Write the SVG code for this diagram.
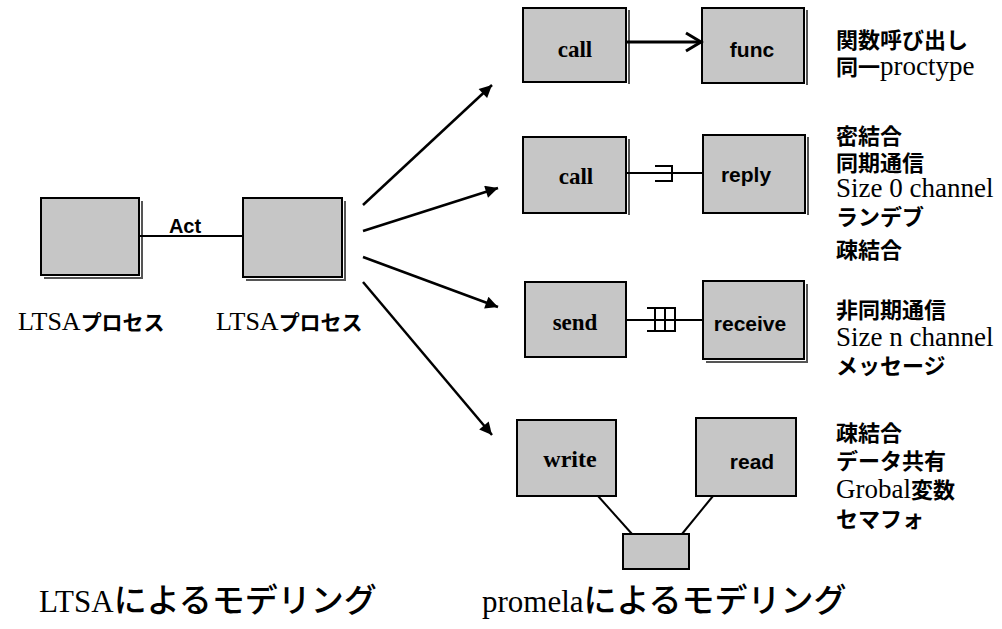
<svg xmlns="http://www.w3.org/2000/svg" width="1002" height="629" viewBox="0 0 1002 629">
<style>
.box{fill:#c6c6c6;stroke:#000;stroke-width:2}
.shadow{fill:none;stroke:#555;stroke-width:2}
.ln{stroke:#000;stroke-width:2;fill:none}
.arr{stroke:#000;stroke-width:2.5;fill:none}
.ser{font-family:'Liberation Serif','Times New Roman',serif;font-weight:700;fill:#000}
.san{font-family:'Liberation Sans',Arial,sans-serif;font-weight:700;fill:#000}
.rt{font-family:'Liberation Serif','Noto Sans CJK JP',serif;font-size:27px;fill:#000}
.jp{font-family:'Noto Sans CJK JP',sans-serif;font-weight:700;font-size:22px}
.lab{font-family:'Liberation Serif','Noto Sans CJK JP',serif;font-size:26px;fill:#000}
.jpl{font-family:'Noto Sans CJK JP',sans-serif;font-weight:700;font-size:21px}
.tt{font-family:'Liberation Serif','Noto Sans CJK JP',serif;font-size:31px;fill:#000}
.jpt{font-family:'Noto Sans CJK JP',sans-serif;font-weight:500;font-size:33px}
</style>
<defs>
<marker id="ah" viewBox="0 0 10 10" refX="10" refY="5" markerWidth="6" markerHeight="5" orient="auto" markerUnits="strokeWidth">
<path d="M0,0 L10,5 L0,10 z" fill="#000"/>
</marker>
</defs>

<g id="ltsa1">
<path class="shadow" d="M142,201 V278 H44"/>
<rect class="box" x="41" y="198" width="98" height="77"/>
</g>
<g id="ltsa2">
<path class="shadow" d="M345,201 V280 H246"/>
<rect class="box" x="243" y="198" width="99" height="79"/>
</g>
<text class="san" x="185" y="233" font-size="20" text-anchor="middle">Act</text>
<text class="lab" x="18" y="330">LTSA<tspan class="jpl">プロセス</tspan></text>
<text class="lab" x="216" y="330">LTSA<tspan class="jpl">プロセス</tspan></text>

<g id="call1">
<path class="shadow" d="M629,10 V84"/>
<rect class="box" x="523" y="8" width="103" height="74"/>
<text class="ser" x="575" y="57" font-size="23" text-anchor="middle">call</text>
</g>
<g id="func">
<path class="shadow" d="M807,10 V85"/>
<rect class="box" x="702" y="8" width="102" height="75"/>
<text class="san" x="752" y="57" font-size="21" text-anchor="middle">func</text>
</g>
<g id="call2">
<path class="shadow" d="M629,139 V215"/>
<rect class="box" x="523" y="137" width="103" height="76"/>
<text class="ser" x="576" y="184" font-size="23" text-anchor="middle">call</text>
</g>
<g id="reply">
<path class="shadow" d="M808,137 V215"/>
<rect class="box" x="703" y="135" width="102" height="78"/>
<text class="san" x="746" y="182" font-size="21" text-anchor="middle">reply</text>
</g>
<g id="send">
<rect class="box" x="525" y="282" width="101" height="75"/>
<text class="ser" x="575" y="330" font-size="23" text-anchor="middle">send</text>
</g>
<g id="receive">
<path class="shadow" d="M807,284 V362 H706"/>
<rect class="box" x="703" y="281" width="101" height="78"/>
<text class="san" x="750" y="331" font-size="21" text-anchor="middle">receive</text>
</g>
<g id="write">
<rect class="box" x="517" y="420" width="99" height="76"/>
<text class="ser" x="570" y="467" font-size="24" text-anchor="middle">write</text>
</g>
<g id="read">
<rect class="box" x="696" y="418" width="100" height="78"/>
<text class="san" x="752" y="469" font-size="21" text-anchor="middle">read</text>
</g>
<g id="shared">
<rect class="box" x="623" y="534" width="66" height="35"/>
</g>

<g id="connectors">
<line class="ln" x1="139" y1="236" x2="243" y2="236"/>
<line class="arr" x1="363" y1="205" x2="492" y2="85" marker-end="url(#ah)"/>
<line class="arr" x1="363" y1="231" x2="498" y2="188" marker-end="url(#ah)"/>
<line class="arr" x1="363" y1="257" x2="498" y2="307" marker-end="url(#ah)"/>
<line class="arr" x1="363" y1="282" x2="492" y2="435" marker-end="url(#ah)"/>
<line x1="627" y1="42" x2="700" y2="42" stroke="#000" stroke-width="3"/>
<path d="M686,33 L701,42 L686,51" fill="none" stroke="#000" stroke-width="3"/>
<line class="ln" x1="627" y1="173" x2="703" y2="173"/>
<path class="ln" d="M655,166 H672 V181 H655"/>
<line class="ln" x1="627" y1="320" x2="703" y2="320"/>
<path class="ln" d="M647,308 H676 M647,331 H676 M655,308 V331 M665,308 V331 M675,308 V331"/>
<line class="ln" x1="598" y1="496" x2="632" y2="534"/>
<line class="ln" x1="713" y1="496" x2="682" y2="534"/>
</g>

<g id="notes">
<text class="rt" x="836" y="48"><tspan class="jp">関数呼び出し</tspan></text>
<text class="rt" x="836" y="75"><tspan class="jp">同一</tspan>proctype</text>
<text class="rt" x="836" y="144"><tspan class="jp">密結合</tspan></text>
<text class="rt" x="836" y="171"><tspan class="jp">同期通信</tspan></text>
<text class="rt" x="836" y="197">Size 0 channel</text>
<text class="rt" x="836" y="225"><tspan class="jp">ランデブ</tspan></text>
<text class="rt" x="836" y="258"><tspan class="jp">疎結合</tspan></text>
<text class="rt" x="836" y="318"><tspan class="jp">非同期通信</tspan></text>
<text class="rt" x="836" y="346">Size n channel</text>
<text class="rt" x="836" y="374"><tspan class="jp">メッセージ</tspan></text>
<text class="rt" x="836" y="441"><tspan class="jp">疎結合</tspan></text>
<text class="rt" x="836" y="469"><tspan class="jp">データ共有</tspan></text>
<text class="rt" x="836" y="498">Grobal<tspan class="jp">変数</tspan></text>
<text class="rt" x="836" y="527"><tspan class="jp">セマフォ</tspan></text>
</g>

<text class="tt" x="39" y="612">LTSA<tspan class="jpt">によるモデリング</tspan></text>
<text class="tt" x="482" y="612">promela<tspan class="jpt">によるモデリング</tspan></text>
</svg>
